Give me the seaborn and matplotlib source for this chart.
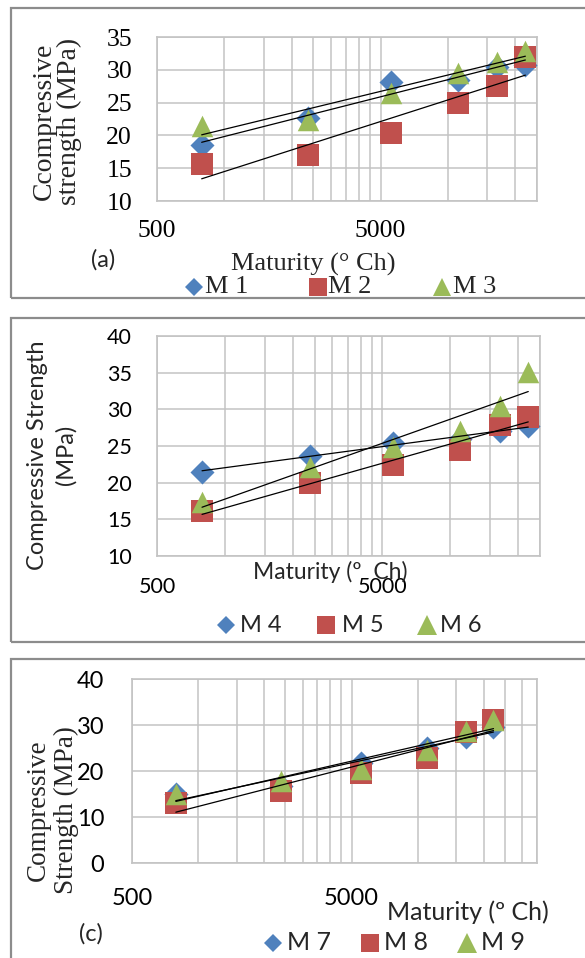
import numpy as np
import pandas as pd
import matplotlib
matplotlib.use("Agg")
import matplotlib.pyplot as plt
import seaborn as sns
from matplotlib.lines import Line2D
from matplotlib.patches import Rectangle
from matplotlib.ticker import NullFormatter, FixedLocator

# ---------------- data ----------------
maturity = [792, 2376, 5544, 11088, 16632, 22176]   # deg C-h

m1 = [18.5, 22.7, 28.2, 28.4, 30.5, 30.8]
m2 = [15.6, 17.0, 20.4, 24.9, 27.6, 32.0]
m3 = [21.5, 22.3, 26.5, 29.5, 31.2, 32.9]

m4 = [21.5, 23.7, 25.4, 26.0, 27.0, 27.7]
m5 = [16.1, 19.9, 22.4, 24.4, 27.9, 29.0]
m6 = [17.4, 22.1, 24.8, 27.1, 30.5, 35.1]

m7 = [15.0, 16.8, 21.7, 24.9, 27.3, 29.6]
m8 = [13.0, 15.7, 19.5, 22.9, 28.4, 31.0]
m9 = [15.0, 17.9, 20.4, 24.6, 28.6, 31.1]

labels_a = ["M 1", "M 2", "M 3"]
labels_b = ["M 4", "M 5", "M 6"]
labels_c = ["M 7", "M 8", "M 9"]

x_major = [500, 5000]
x_major_labels = ["500", "5000"]

# ---------------- style ----------------
sns.set_theme(style="white")
SERIF = ["Liberation Serif", "DejaVu Serif"]
SANS = ["Lato", "DejaVu Sans"]

BLUE, RED, GREEN = "#4F81BD", "#C0504D", "#9BBB59"
GRID = "#C3C3C3"
FRAME = "#8C8C8C"

W, H = 585, 958
fig = plt.figure(figsize=(W / 100, H / 100), dpi=100)
fig.patch.set_facecolor("white")


def rect(l, t, r, b):
    return [l / W, 1 - b / H, (r - l) / W, (b - t) / H]


def fx(x):
    return x / W


def fy(y):
    return 1 - y / H


def border(top, bottom, left=11):
    fig.add_artist(Rectangle((fx(left), fy(bottom)), (W + 20 - left) / W,
                             (bottom - top) / H, transform=fig.transFigure,
                             fill=False, ec=FRAME, lw=1.6, zorder=0))


def panel(prect, xmax, ylim, ystep, ys, font, tsize, ypad, xpad):
    ax = fig.add_axes(rect(*prect))
    ax.set_xscale("log")
    specs = [("D", BLUE, 150), ("s", RED, 250), ("^", GREEN, 240)]
    for vals, (mk, col, sz) in zip(ys, specs):
        sns.scatterplot(x=maturity, y=vals, ax=ax, marker=mk, color=col,
                        s=sz, linewidth=0, zorder=3)
    for vals in ys:
        sns.regplot(x=np.array(maturity, float), y=np.array(vals), logx=True,
                    scatter=False, ci=None, ax=ax,
                    line_kws=dict(color="black", lw=0.9, zorder=4))
    ax.set_xlim(500, xmax)
    ax.set_ylim(*ylim)
    ax.set_xlabel("")
    ax.set_ylabel("")
    ax.xaxis.set_major_locator(FixedLocator(x_major))
    ax.set_xticklabels(x_major_labels)
    minor = [k * 500 for k in range(2, 10)] + \
            [k * 5000 for k in range(2, 11) if k * 5000 <= xmax]
    ax.xaxis.set_minor_locator(FixedLocator(minor))
    ax.xaxis.set_minor_formatter(NullFormatter())
    ax.set_yticks(np.arange(ylim[0], ylim[1] + 0.1, ystep))
    ax.grid(True, which="both", axis="x", color=GRID, lw=1.1)
    ax.grid(True, which="major", axis="y", color=GRID, lw=1.1)
    ax.set_axisbelow(True)
    for sp in ax.spines.values():
        sp.set_color(GRID)
        sp.set_linewidth(1.2)
    ax.tick_params(which="both", length=0)
    ax.tick_params(axis="y", pad=ypad)
    ax.tick_params(axis="x", pad=xpad)
    for t in ax.get_xticklabels() + ax.get_yticklabels():
        t.set_family(font)
        t.set_fontsize(tsize)
        t.set_color("black")
    return ax


def legend(y, items, font, size):
    for (xm, xt, mk, col, ms, lab) in items:
        fig.add_artist(Line2D([fx(xm)], [fy(y)], transform=fig.transFigure,
                              marker=mk, color=col, ms=ms, ls="none", mew=0))
        fig.text(fx(xt), fy(y), lab, ha="left", va="center",
                 family=font, fontsize=size)


# ---------------- panel (a) ----------------
border(8, 298)
panel((157, 37, 537, 201), 25000, (10, 35), 5, [m1, m2, m3], SERIF, 18.5, 18, 14)
fig.text(fx(57), fy(121), "Ccompressive\nstrength (MPa)", rotation=90,
         ha="center", va="center", multialignment="center",
         family=SERIF, fontsize=20, linespacing=1.02)
fig.text(fx(313), fy(264), "Maturity (° Ch)", ha="center", va="center",
         family=SERIF, fontsize=19)
fig.text(fx(103), fy(260), "(a)", ha="center", va="center",
         family=SANS, fontsize=17)
legend(287, [(194, 205, "D", BLUE, 9, labels_a[0]),
             (318, 328, "s", RED, 12.5, labels_a[1]),
             (442, 453, "^", GREEN, 13.5, labels_a[2])], SERIF, 19)

# ---------------- panel (b) ----------------
border(318, 642)
panel((157, 336, 540, 556), 25000, (10, 40), 5, [m4, m5, m6], SANS, 15.5, 18, 15)
fig.text(fx(52), fy(455), "Compressive Strength\n(MPa)", rotation=90,
         ha="center", va="center", multialignment="center",
         family=SANS, fontsize=17, linespacing=1.4)
fig.text(fx(330), fy(572), "Maturity (º  Ch)", ha="center", va="center",
         family=SANS, fontsize=16.5)
legend(625, [(226, 240, "D", BLUE, 9, labels_b[0]),
             (326, 342, "s", RED, 13, labels_b[1]),
             (427, 440, "^", GREEN, 14, labels_b[2])], SANS, 17)

# ---------------- panel (c) ----------------
border(659, 975)
panel((132, 679, 537, 863), 35000, (0, 40), 10, [m7, m8, m9], SANS, 17, 20, 18)
fig.text(fx(52), fy(810), "Compressive\nStrength (MPa)", rotation=90,
         ha="center", va="center", multialignment="center",
         family=SERIF, fontsize=19.5, linespacing=1.15)
fig.text(fx(468), fy(912), "Maturity (º Ch)", ha="center", va="center",
         family=SANS, fontsize=18)
fig.text(fx(91), fy(934), "(c)", ha="center", va="center",
         family=SANS, fontsize=17)
legend(943, [(273, 287, "D", BLUE, 9, labels_c[0]),
             (370, 384, "s", RED, 13, labels_c[1]),
             (467, 481, "^", GREEN, 14, labels_c[2])], SANS, 18)

fig.savefig("out.png", dpi=100, facecolor="white")
